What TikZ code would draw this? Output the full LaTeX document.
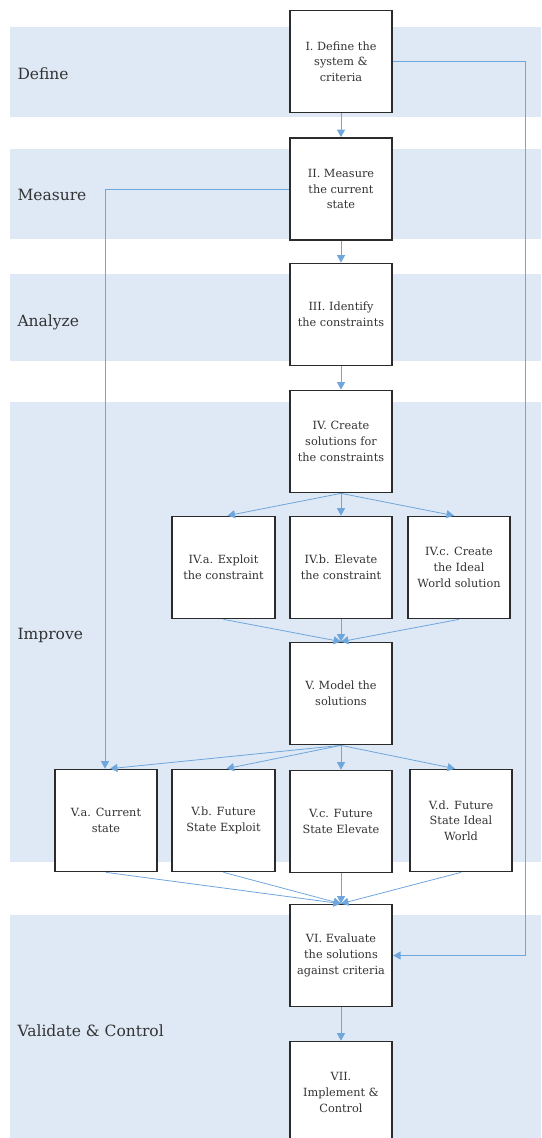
\documentclass[tikz,border=0pt]{standalone}
\usepackage{fontspec}
\setmainfont{DejaVu Serif}
\usetikzlibrary{arrows.meta}
\definecolor{band}{HTML}{DEE9F5}
\definecolor{flow}{HTML}{6FA6DC}
\definecolor{ink}{HTML}{333333}
\definecolor{frame}{HTML}{2B2B2B}

\begin{document}
\begin{tikzpicture}[x=1pt,y=-1pt,
  stepbox/.style={draw=frame, line width=1.7pt, fill=white,
    minimum width=102.5pt, minimum height=102pt, inner sep=0pt,
    align=center, text=ink, font=\fontsize{11.3}{15.7}\selectfont},
  lane/.style={anchor=base west, text=ink, font=\fontsize{15.5}{18}\selectfont},
  flowline/.style={draw=flow, line width=0.8pt,
    -{Triangle[length=7.5pt,width=8pt]}}]

\useasboundingbox (0,0) rectangle (541,1138);

% swim-lane bands
\fill[band] (10,27)  rectangle (541,117);
\fill[band] (10,149) rectangle (541,239);
\fill[band] (10,274) rectangle (541,361);
\fill[band] (10,402) rectangle (541,862);
\fill[band] (10,915) rectangle (541,1138);

% lane titles
\node[lane] (tDefine)   at (14,79)   {Define};
\node[lane] (tMeasure)  at (14,200)  {Measure};
\node[lane] (tAnalyze)  at (14,326)  {Analyze};
\node[lane] (tImprove)  at (14,639)  {Improve};
\node[lane] (tValidate) at (14,1036) {Validate \& Control};

% process steps
\node[stepbox] (s1)  at (341,61.5)   {I. Define the\\system \&\\criteria};
\node[stepbox] (s2)  at (341,189)    {II. Measure\\the current\\state};
\node[stepbox] (s3)  at (341,314.5)  {III. Identify\\the constraints};
\node[stepbox] (s4)  at (341,441.5)  {IV. Create\\solutions for\\the constraints};
\node[stepbox] (s4a) at (223.5,567.5) {IV.a. Exploit\\the constraint};
\node[stepbox] (s4b) at (341,567.5)  {IV.b. Elevate\\the constraint};
\node[stepbox] (s4c) at (459,567.5)  {IV.c. Create\\the Ideal\\World solution};
\node[stepbox] (s5)  at (341,693.5)  {V. Model the\\solutions};
\node[stepbox] (s5a) at (106,820.5)  {V.a. Current\\state};
\node[stepbox] (s5b) at (223.5,820.5) {V.b. Future\\State Exploit};
\node[stepbox] (s5c) at (341,821.5)  {V.c. Future\\State Elevate};
\node[stepbox] (s5d) at (461,820.5)  {V.d. Future\\State Ideal\\World};
\node[stepbox] (s6)  at (341,955.5)  {VI. Evaluate\\the solutions\\against criteria};
\node[stepbox] (s7)  at (341,1092.5) {VII.\\Implement \&\\Control};

% main chain
\draw[flowline] (s1) -- (s2);
\draw[flowline] (s2) -- (s3);
\draw[flowline] (s3) -- (s4);
\draw[flowline] (s6) -- (s7);

% solution branches
\draw[flowline] (s4.south) -- ([xshift=4pt]s4a.north);
\draw[flowline] (s4.south) -- (s4b.north);
\draw[flowline] (s4.south) -- ([xshift=-5pt]s4c.north);
\draw[flowline] (s4a.south) -- (s5.north);
\draw[flowline] (s4b.south) -- (s5.north);
\draw[flowline] (s4c.south) -- (s5.north);

% modelled states
\draw[flowline] (s5.south) -- ([xshift=4pt]s5a.north);
\draw[flowline] (s5.south) -- ([xshift=3pt]s5b.north);
\draw[flowline] (s5.south) -- (s5c.north);
\draw[flowline] (s5.south) -- ([xshift=-6pt]s5d.north);
\draw[flowline] (s5a.south) -- (s6.north);
\draw[flowline] (s5b.south) -- (s6.north);
\draw[flowline] (s5c.south) -- (s6.north);
\draw[flowline] (s5d.south) -- (s6.north);

% feedback routes
\draw[flowline] (s2.west) -| ([xshift=-1pt]s5a.north);
\draw[flowline] (s1.east) -- (525,61.5) |- (s6.east);

\end{tikzpicture}
\end{document}
